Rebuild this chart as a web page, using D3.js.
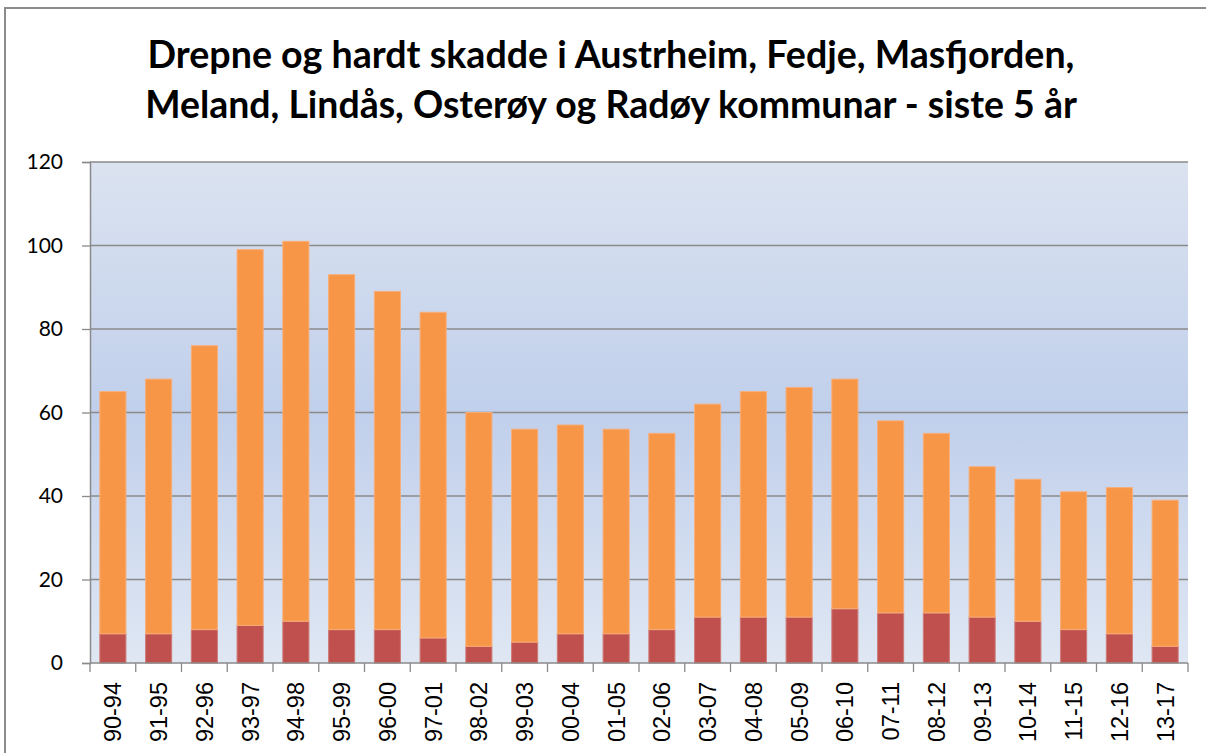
<!DOCTYPE html>
<html>
<head>
<meta charset="utf-8">
<script src="https://cdn.jsdelivr.net/npm/d3@7"></script>
<style>
  body { margin: 0; background: #fff; }
  svg { display: block; }
</style>
</head>
<body>
<div id="chart"></div>
<script>
const periods = ["90-94","91-95","92-96","93-97","94-98","95-99","96-00","97-01","98-02","99-03","00-04","01-05",
                 "02-06","03-07","04-08","05-09","06-10","07-11","08-12","09-13","10-14","11-15","12-16","13-17"];
const drepne = [7,7,8,9,10,8,8,6,4,5,7,7,8,11,11,11,13,12,12,11,10,8,7,4];
const totalt = [65,68,76,99,101,93,89,84,60,56,57,56,55,62,65,66,68,58,55,47,44,41,42,39];
const hardtSkadde = totalt.map((t, i) => t - drepne[i]);
const yTicks = [0,20,40,60,80,100,120];
const titleLines = ["Drepne og hardt skadde i Austrheim, Fedje, Masfjorden,",
                    "Meland, Lindås, Osterøy og Radøy kommunar - siste 5 år"];

const W = 1206, H = 753;
const m = {left: 90, right: 1188, top: 162, bottom: 663};

const svg = d3.select("#chart").append("svg").attr("width", W).attr("height", H);

// outer chart border
svg.append("rect").attr("x", 5).attr("y", 8).attr("width", W + 10).attr("height", H + 10)
  .attr("fill", "#fff").attr("stroke", "#8c8c8c").attr("stroke-width", 2);

const defs = svg.append("defs");
const grad = defs.append("linearGradient").attr("id", "bg").attr("x1", 0).attr("y1", 0).attr("x2", 0).attr("y2", 1);
grad.append("stop").attr("offset", "0%").attr("stop-color", "#dbe3f0");
grad.append("stop").attr("offset", "50%").attr("stop-color", "#c0cfeb");
grad.append("stop").attr("offset", "100%").attr("stop-color", "#dfe7f3");

const x = d3.scaleBand().domain(periods).range([m.left, m.right]).paddingInner(0.43).paddingOuter(0.215);
const y = d3.scaleLinear().domain([0, 120]).range([m.bottom, m.top]);

svg.append("rect").attr("x", m.left).attr("y", m.top)
  .attr("width", m.right - m.left).attr("height", m.bottom - m.top).attr("fill", "url(#bg)");

// gridlines
svg.append("g").selectAll("line").data(yTicks.slice(1)).enter().append("line")
  .attr("x1", m.left).attr("x2", m.right)
  .attr("y1", d => y(d)).attr("y2", d => y(d))
  .attr("stroke", "#8a8a8a").attr("stroke-width", 1.3);

// stacked bars
const rows = periods.map((p, i) => ({p, drepne: drepne[i], skadde: hardtSkadde[i]}));
const stack = d3.stack().keys(["drepne", "skadde"])(rows);
const colors = {drepne: "#c0504d", skadde: "#f79646"};
const strokes = {drepne: "#cf7a77", skadde: "#f8ad78"};

svg.append("g").selectAll("g").data(stack).enter().append("g")
  .attr("fill", d => colors[d.key]).attr("stroke", d => strokes[d.key]).attr("stroke-width", 1)
  .selectAll("rect").data(d => d).enter().append("rect")
  .attr("x", d => x(d.data.p))
  .attr("width", x.bandwidth())
  .attr("y", d => y(d[1]))
  .attr("height", d => y(d[0]) - y(d[1]));

// y axis
const yAxis = svg.append("g").attr("transform", `translate(${m.left},0)`)
  .call(d3.axisLeft(y).tickValues(yTicks).tickSize(8).tickPadding(19));
yAxis.select(".domain").attr("stroke", "#8a8a8a").attr("stroke-width", 1.5);
yAxis.selectAll(".tick line").attr("stroke", "#8a8a8a").attr("stroke-width", 1.3);
yAxis.selectAll("text").attr("font-family", "Lato, 'Open Sans', sans-serif").attr("font-size", 21)
  .attr("fill", "#000");

// x axis with ticks at category boundaries
const xAxisG = svg.append("g").attr("transform", `translate(0,${m.bottom})`);
xAxisG.append("line").attr("x1", m.left).attr("x2", m.right).attr("stroke", "#8a8a8a").attr("stroke-width", 1.5);
const bounds = d3.range(periods.length + 1).map(i => m.left + i * (m.right - m.left) / periods.length);
xAxisG.selectAll("line.tk").data(bounds).enter().append("line").attr("class", "tk")
  .attr("x1", d => d).attr("x2", d => d).attr("y1", 0).attr("y2", 9)
  .attr("stroke", "#8a8a8a").attr("stroke-width", 1.3);
xAxisG.selectAll("text").data(periods).enter().append("text")
  .attr("transform", d => `translate(${x(d) + x.bandwidth() / 2 + 8.5},19) rotate(-90)`)
  .attr("text-anchor", "end")
  .attr("font-family", "'Liberation Sans', Arial, sans-serif")
  .attr("font-size", 23.5).attr("fill", "#000")
  .text(d => d);

// title, fitted to reference width
const title = svg.append("g");
const lineY = [68, 118];
const targetW = [927, 932];
titleLines.forEach((t, i) => {
  const tx = title.append("text")
    .attr("x", 611).attr("y", lineY[i]).attr("text-anchor", "middle")
    .attr("font-family", "Lato, 'Open Sans', sans-serif").attr("font-weight", "bold")
    .attr("font-size", 30).attr("fill", "#000").text(t);
  const w = tx.node().getComputedTextLength();
  tx.attr("font-size", 30 * targetW[i] / w);
});
</script>
</body>
</html>
